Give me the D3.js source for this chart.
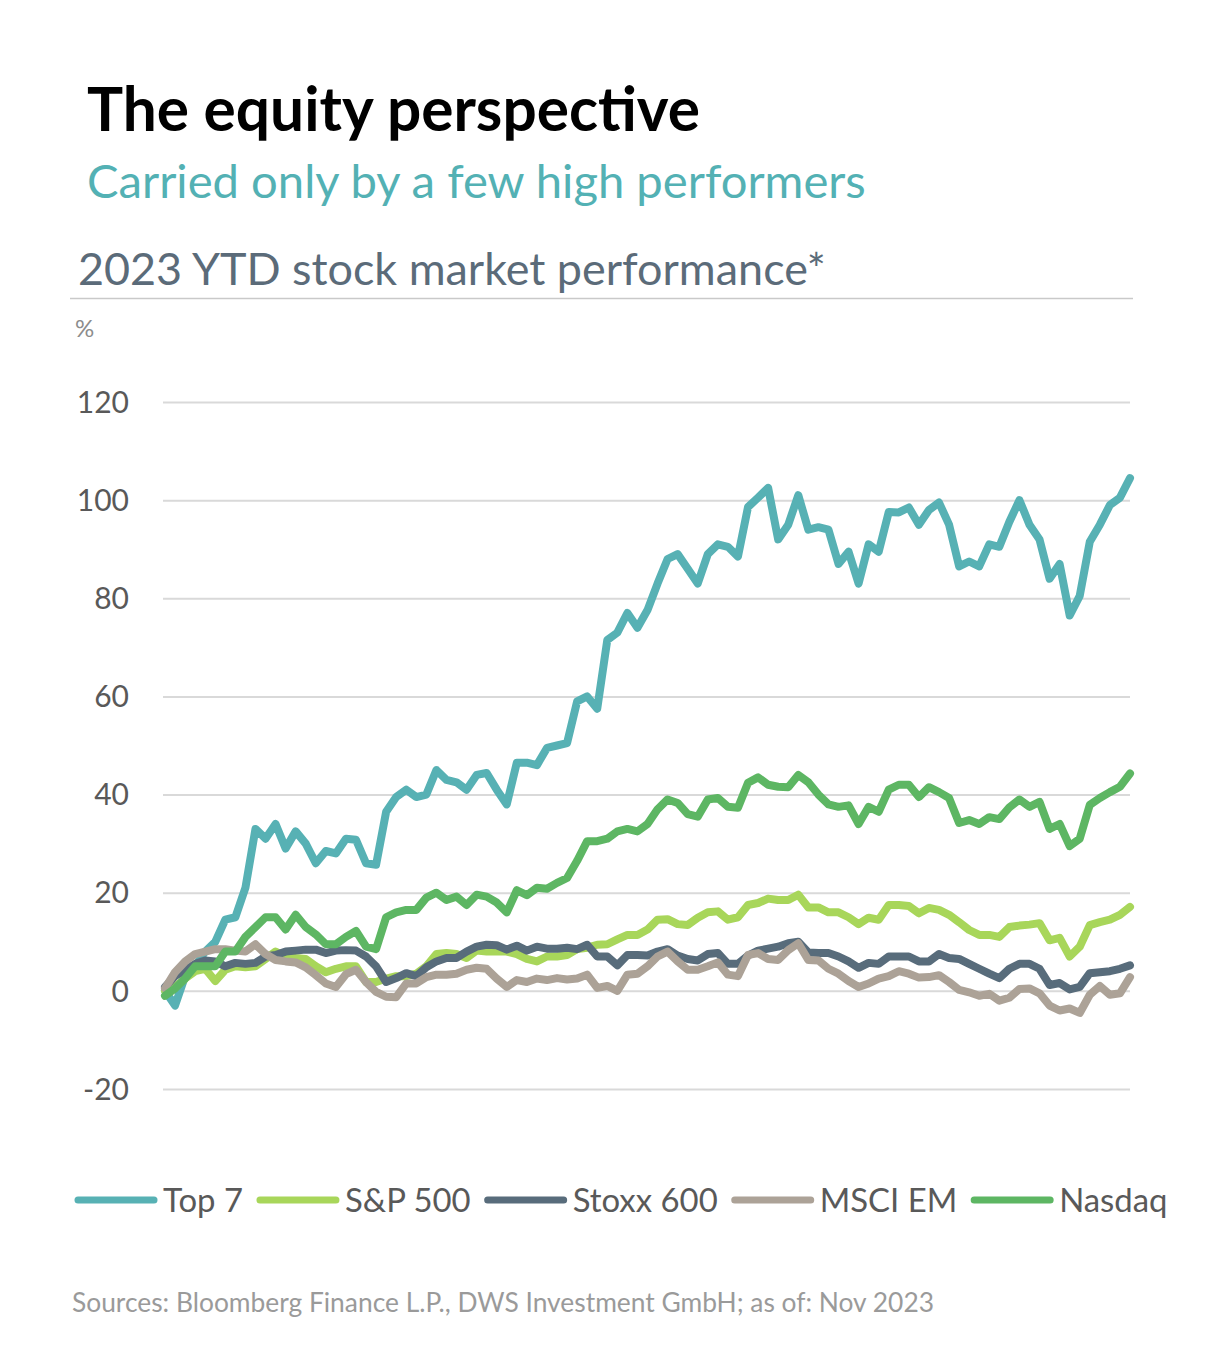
<!DOCTYPE html>
<html>
<head>
<meta charset="utf-8">
<script src="https://cdn.jsdelivr.net/npm/d3@7/dist/d3.min.js"></script>
<style>
  html, body { margin: 0; padding: 0; background: #fff; }
  svg { display: block; }
  text { font-family: Lato, "Open Sans", "Noto Sans", sans-serif; }
</style>
</head>
<body>
<svg id="chart" width="1205" height="1354"></svg>
<script>
// ---------------- Data ----------------
const seriesNames = ["Top 7", "S&P 500", "Stoxx 600", "MSCI EM", "Nasdaq"];
const seriesColors = ["#57b1b4", "#a8d65a", "#586c7b", "#aca297", "#5db663"];
const yTicks = [-20, 0, 20, 40, 60, 80, 100, 120];

const top7 = [0, -3, 3, 5, 8, 10, 14.5, 15, 21, 33, 31, 34, 29, 32.5, 30, 26, 28.5, 28, 31, 30.8,
  26, 25.7, 36.5, 39.5, 41, 39.5, 40, 45, 43, 42.5, 41, 44, 44.4, 41, 38, 46.5, 46.5, 46, 49.5, 50,
  50.5, 59, 60, 57.5, 71.5, 73, 77, 74, 77.6, 83, 88, 89, 86, 83, 89, 91, 90.5, 88.5, 98.6, 100.5,
  102.5, 92, 95, 101, 94, 94.5, 94, 87, 89.5, 83, 91, 89.5, 97.6, 97.5, 98.5, 95, 98, 99.5, 95, 86.5,
  87.5, 86.5, 91, 90.5, 95.6, 100, 95, 92, 84, 87, 76.5, 80.5, 91.5, 95, 99, 100.5, 104.5];

const sp500 = [0, 0.8, 2.5, 4, 4.5, 2, 4.3, 5, 4.8, 5, 6.5, 8, 7, 6.7, 6.5, 5, 3.8, 4.5, 5, 5,
  1.8, 1.8, 2.5, 3, 3, 3.5, 5, 7.5, 7.7, 7.5, 6.7, 8.2, 8, 8, 8, 7.5, 6.5, 6, 7, 7,
  7.3, 8.5, 8.8, 9.4, 9.5, 10.5, 11.4, 11.4, 12.5, 14.5, 14.6, 13.6, 13.4, 14.9, 16, 16.2, 14.5, 15, 17.5, 17.9,
  18.8, 18.5, 18.5, 19.6, 17, 17, 16, 16, 15, 13.6, 14.9, 14.5, 17.5, 17.5, 17.3, 15.8, 16.9, 16.5, 15.5, 14,
  12.4, 11.4, 11.4, 11, 13, 13.3, 13.5, 13.8, 10.3, 10.8, 7, 9, 13.4, 14, 14.5, 15.5, 17.1];

const stoxx600 = [0.8, 3, 4.3, 5.5, 6.2, 6, 5, 5.7, 5.5, 5.7, 7, 7.3, 8, 8.2, 8.4, 8.4, 7.7, 8.2, 8.3, 8.2,
  7, 5, 1.8, 2.6, 3.6, 3, 4.8, 6, 6.7, 6.7, 8, 9, 9.4, 9.3, 8.4, 9.2, 8.2, 9, 8.6, 8.6,
  8.8, 8.5, 9.4, 7, 7, 5.2, 7.3, 7.3, 7.2, 8, 8.5, 7.2, 6.5, 6.2, 7.5, 7.7, 5.5, 5.5, 7.2, 8.2,
  8.6, 9, 9.7, 10, 7.8, 7.7, 7.7, 7, 6, 4.7, 5.7, 5.5, 7, 7, 7, 6, 6, 7.5, 6.7, 6.5,
  5.5, 4.5, 3.5, 2.6, 4.5, 5.5, 5.5, 4.5, 1.2, 1.6, 0.3, 0.8, 3.6, 3.8, 4, 4.5, 5.2];

const msciEM = [0.5, 3.8, 6, 7.5, 8, 8.5, 8.5, 8.2, 8, 9.5, 7.5, 6.3, 6, 5.8, 4.8, 3.2, 1.5, 0.8, 3.4, 4.3,
  1.8, -0.2, -1.2, -1.3, 1.5, 1.5, 2.8, 3.3, 3.3, 3.5, 4.3, 4.7, 4.5, 2.5, 0.8, 2.2, 1.8, 2.5, 2.2, 2.6,
  2.3, 2.5, 3.3, 0.6, 1, 0, 3.3, 3.5, 5, 7, 8, 6, 4.3, 4.3, 5, 5.8, 3.3, 3, 7.3, 7.7,
  6.5, 6.3, 8.3, 9.7, 6.3, 6.2, 4.5, 3.5, 2, 0.8, 1.5, 2.5, 3, 4, 3.5, 2.7, 2.8, 3.2, 1.8, 0.2,
  -0.3, -1, -0.6, -2, -1.4, 0.4, 0.5, -0.5, -3, -4, -3.6, -4.5, -0.8, 1, -0.8, -0.5, 2.8];

const nasdaq = [-1, 0.5, 2.5, 5, 5, 5, 8, 8, 11, 13, 15, 15, 12.5, 15.5, 13, 11.5, 9.5, 9.5, 11, 12.2,
  9, 8.5, 15, 16, 16.5, 16.5, 19, 20, 18.5, 19.2, 17.5, 19.6, 19.2, 18, 16, 20.5, 19.5, 21, 20.8, 22,
  23, 26.5, 30.5, 30.5, 31, 32.5, 33, 32.5, 34, 37, 39, 38.3, 36, 35.5, 39, 39.3, 37.5, 37.3, 42.4, 43.5,
  42, 41.6, 41.5, 44, 42.5, 40, 38, 37.5, 37.8, 34, 37.5, 36.5, 41, 42, 42, 39.5, 41.5, 40.5, 39.3, 34.2,
  34.8, 34, 35.4, 35, 37.4, 39, 37.5, 38.5, 33, 34, 29.5, 31, 37.9, 39.3, 40.5, 41.6, 44.3];

const seriesValues = [top7, sp500, stoxx600, msciEM, nasdaq];

// ---------------- Layout ----------------
const svg = d3.select("#chart");
const plot = { left: 165, right: 1130, top: 402, bottom: 1089, gridLeft: 163 };

function fitWidth(sel, target) {
  const fs = parseFloat(sel.attr("font-size"));
  const w = sel.node().getComputedTextLength();
  sel.attr("font-size", (fs * target / w).toFixed(2));
}

// Titles
const t1 = svg.append("text").attr("x", 87).attr("y", 131)
  .attr("font-size", 56).attr("font-weight", 700).attr("fill", "#000")
  .text("The equity perspective");
fitWidth(t1, 613);

const t2 = svg.append("text").attr("x", 87).attr("y", 198)
  .attr("font-size", 44).attr("fill", "#53b1b4")
  .text("Carried only by a few high performers");
fitWidth(t2, 779);

const t3 = svg.append("text").attr("x", 78).attr("y", 285)
  .attr("font-size", 40).attr("fill", "#5b6b79")
  .text("2023 YTD stock market performance*");
fitWidth(t3, 748);

svg.append("line").attr("x1", 70).attr("x2", 1133).attr("y1", 298.5).attr("y2", 298.5)
  .attr("stroke", "#c9c9c9").attr("stroke-width", 1.5);

svg.append("text").attr("x", 75).attr("y", 337)
  .attr("font-size", 24).attr("fill", "#8c8c8c").text("%");

// Scales
const N = top7.length;
const x = d3.scaleLinear().domain([0, N - 1]).range([plot.left, plot.right]);
const y = d3.scaleLinear().domain([-20, 120]).range([plot.bottom, plot.top]);

// Axis + gridlines
const yAxis = d3.axisLeft(y).tickValues(yTicks)
  .tickSize(-(plot.right - plot.gridLeft)).tickPadding(34).tickFormat(d => String(d));
const gAxis = svg.append("g").attr("transform", `translate(${plot.gridLeft},0)`).call(yAxis);
gAxis.select(".domain").remove();
gAxis.selectAll(".tick line").attr("stroke", "#d9d9d9").attr("stroke-width", 2);
gAxis.selectAll(".tick text").attr("fill", "#595959").attr("font-size", 30)
  .attr("font-family", "Lato, 'Open Sans', sans-serif").attr("dy", "0.34em");

// Lines
const line = d3.line().x((d, i) => x(i)).y(d => y(d)).curve(d3.curveLinear);
const gLines = svg.append("g");
seriesValues.forEach((vals, k) => {
  gLines.append("path").datum(vals).attr("d", line)
    .attr("fill", "none").attr("stroke", seriesColors[k]).attr("stroke-width", 8)
    .attr("stroke-linejoin", "round").attr("stroke-linecap", "round");
});

// Legend
const legendY = 1200;
const lineLen = 82, gapLT = 6, gapTL = 14;
const legStart = 75, legEnd = 1168;
const gLeg = svg.append("g");

function layoutLegend(fs) {
  gLeg.selectAll("*").remove();
  let cx = legStart;
  seriesNames.forEach((name, k) => {
    gLeg.append("line").attr("x1", cx + 3).attr("x2", cx + lineLen - 3)
      .attr("y1", legendY).attr("y2", legendY)
      .attr("stroke", seriesColors[k]).attr("stroke-width", 7).attr("stroke-linecap", "round");
    cx += lineLen + gapLT;
    const t = gLeg.append("text").attr("x", cx).attr("y", legendY).attr("dy", "0.35em")
      .attr("font-size", fs).attr("fill", "#595959").text(name);
    cx += t.node().getComputedTextLength();
    if (k < seriesNames.length - 1) cx += gapTL;
  });
  return cx;
}
const fixedPart = seriesNames.length * (lineLen + gapLT) + (seriesNames.length - 1) * gapTL;
const end0 = layoutLegend(30);
const textW0 = end0 - legStart - fixedPart;
const legFs = 30 * (legEnd - legStart - fixedPart) / textW0;
layoutLegend(legFs);

// Source
const src = svg.append("text").attr("x", 72).attr("y", 1312)
  .attr("font-size", 22).attr("fill", "#9a9a9a")
  .text("Sources: Bloomberg Finance L.P., DWS Investment GmbH; as of: Nov 2023");
fitWidth(src, 862);
</script>
</body>
</html>
